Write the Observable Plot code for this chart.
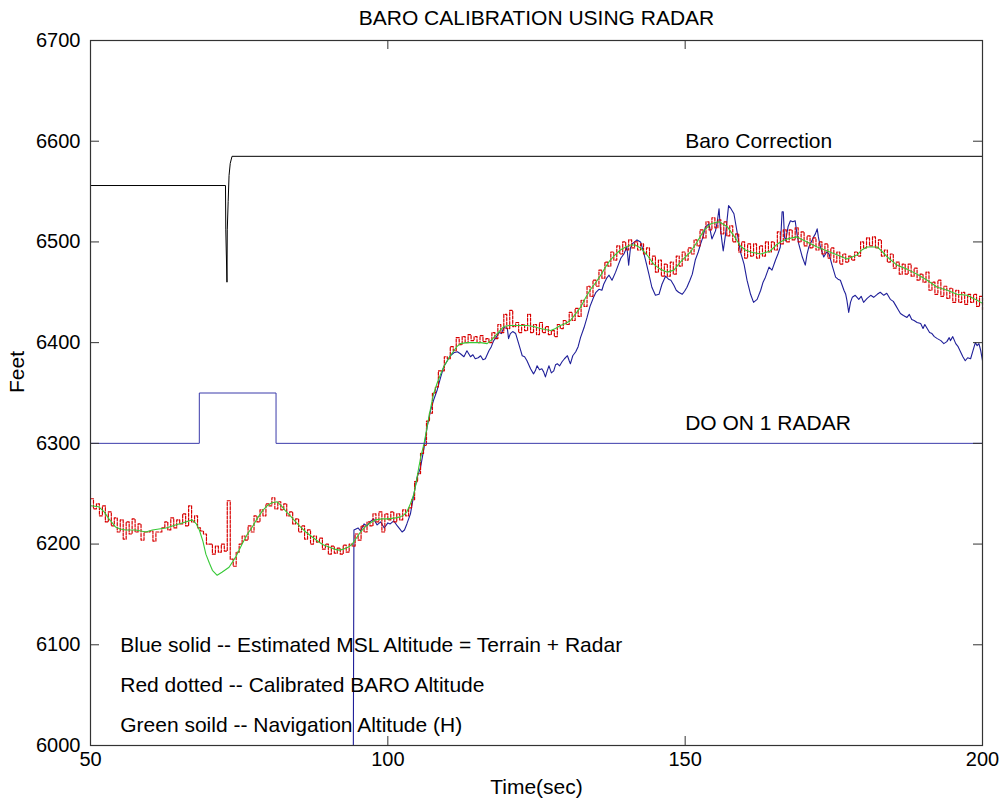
<!DOCTYPE html>
<html>
<head>
<meta charset="utf-8">
<script src="https://cdn.jsdelivr.net/npm/d3@7"></script>
<script src="https://cdn.jsdelivr.net/npm/@observablehq/plot@0.6"></script>
<style>
  body { margin: 0; background: #fff; }
</style>
</head>
<body>
<div id="chart"></div>
<script>
// Axis ticks
const xTicks = [50, 100, 150, 200];
const yTicks = [6000, 6100, 6200, 6300, 6400, 6500, 6600, 6700];

// Baro correction trace (black)
const baroTime = [50, 72.7, 72.75, 72.95, 73.0, 73.15, 73.3, 73.5, 73.8, 200];
const baroAlt  = [6556, 6556, 6512, 6460, 6512, 6540, 6566, 6578, 6585, 6585];

// "DO ON 1 RADAR" discrete indicator (blue step)
const radarTime = [50, 68.3, 68.3, 81.2, 81.2, 200];
const radarAlt  = [6300, 6300, 6350, 6350, 6300, 6300];

// Estimated MSL altitude = terrain + radar (blue solid)
const blueTime = [94.2, 94.3, 95.0, 95.4, 96.0, 96.5, 97.0, 97.6, 98.2, 98.8, 99.4, 100.0, 100.4, 101.0, 101.6, 102.0, 102.4, 102.8,
  103.2, 103.8, 104.4, 104.9, 105.5, 106.1, 106.6, 107.2, 107.7, 108.3, 108.9, 109.4, 110.0, 110.5, 111.1, 111.7, 112.2, 112.8,
  113.3, 113.9, 114.3, 114.7, 115.2, 115.6, 116.0, 116.4, 117.0, 117.4, 117.8, 118.2, 118.7, 119.1, 119.5, 120.1, 120.3, 120.6,
  121.0, 121.5, 122.0, 122.3, 122.6, 123.0, 123.4, 123.7, 124.0, 124.5, 124.8, 125.1, 125.5, 125.9, 126.2, 126.5, 126.8, 127.1,
  127.5, 127.9, 128.2, 128.5, 128.9, 129.3, 129.7, 130.2, 130.5, 130.7, 131.1, 131.6, 132.0, 132.4, 133.0, 133.5, 134.0, 134.6,
  135.0, 135.5, 136.0, 136.3, 136.8, 137.2, 137.7, 138.3, 138.8, 139.2, 139.7, 140.2, 140.5, 140.8, 141.1, 141.5, 141.9, 142.5,
  143.0, 143.5, 143.9, 144.4, 145.0, 145.6, 146.1, 146.7, 147.2, 147.6, 148.1, 148.5, 148.9, 149.5, 149.9, 150.3, 150.8, 151.2,
  151.7, 152.2, 152.6, 153.0, 153.4, 154.0, 154.5, 155.1, 155.4, 155.7, 155.9, 156.2, 156.4, 156.8, 157.3, 157.7, 158.2, 158.7,
  159.0, 159.3, 159.9, 160.4, 161.0, 161.5, 162.1, 162.7, 163.1, 163.5, 164.1, 164.6, 165.2, 165.6, 166.0, 166.3, 166.5, 166.7,
  166.9, 167.3, 167.7, 168.1, 168.5, 168.8, 169.1, 169.7, 170.2, 170.5, 170.8, 171.2, 171.6, 171.9, 172.2, 172.4, 172.7, 173.3,
  173.8, 174.2, 174.7, 175.3, 175.7, 176.1, 176.4, 176.7, 177.0, 177.2, 177.5, 177.8, 178.1, 178.6, 179.2, 179.6, 180.0, 180.6,
  181.2, 181.7, 182.3, 182.8, 183.4, 183.9, 184.5, 185.0, 185.4, 185.8, 186.2, 186.7, 187.3, 187.7, 188.1, 188.5, 189.0, 189.6,
  190.0, 190.3, 190.7, 191.1, 191.5, 191.9, 192.4, 193.0, 193.5, 194.0, 194.4, 194.6, 195.0, 195.5, 195.9, 196.3, 196.7, 197.1,
  197.5, 198.0, 198.4, 198.8, 199.1, 199.4, 199.7, 200.0];
const blueAlt = [6000, 6214, 6216, 6213, 6220, 6218, 6222, 6225, 6219, 6222, 6216, 6221, 6220, 6223, 6218, 6215, 6212, 6214,
  6220, 6230, 6250, 6266, 6276, 6296, 6316, 6333, 6343, 6353, 6366, 6376, 6382, 6387, 6390, 6391, 6389, 6386,
  6392, 6386, 6388, 6384, 6385, 6387, 6383, 6384, 6392, 6396, 6402, 6405, 6410, 6409, 6415, 6414, 6404, 6409,
  6411, 6409, 6399, 6393, 6387, 6386, 6382, 6378, 6374, 6369, 6372, 6377, 6373, 6374, 6371, 6366, 6372, 6377,
  6370, 6372, 6378, 6379, 6377, 6381, 6384, 6387, 6382, 6379, 6387, 6391, 6396, 6405, 6415, 6425, 6436, 6445,
  6450, 6453, 6452, 6458, 6464, 6467, 6462, 6470, 6478, 6484, 6488, 6495, 6477, 6494, 6498, 6500, 6502, 6500,
  6490, 6478, 6468, 6455, 6447, 6448, 6458, 6466, 6463, 6462, 6457, 6452, 6450, 6448, 6451, 6455, 6462, 6468,
  6482, 6490, 6498, 6505, 6515, 6518, 6503, 6511, 6520, 6533, 6515, 6500, 6491, 6508, 6536, 6533, 6528, 6511,
  6500, 6490, 6478, 6462, 6448, 6440, 6443, 6452, 6460, 6465, 6475, 6472, 6482, 6488, 6495, 6530, 6530, 6505,
  6501, 6515, 6521, 6520, 6521, 6508, 6498, 6485, 6477, 6488, 6495, 6500, 6505, 6508, 6513, 6505, 6496, 6485,
  6490, 6488, 6477, 6465, 6463, 6462, 6457, 6452, 6448, 6442, 6430, 6440, 6445, 6447, 6443, 6446, 6440, 6444,
  6447, 6445, 6448, 6450, 6447, 6449, 6443, 6441, 6437, 6433, 6429, 6427, 6425, 6428, 6423, 6422, 6420, 6419,
  6414, 6418, 6414, 6410, 6409, 6406, 6404, 6402, 6399, 6401, 6405, 6402, 6406, 6399, 6396, 6391, 6386, 6382,
  6385, 6384, 6392, 6400, 6397, 6399, 6392, 6382];

// Calibrated BARO altitude (red dotted), sampled every 0.5 s from t = 50
const redStart = 50;
const redStep = 0.5;
const redAlt = [
  6245, 6235, 6240, 6228, 6238, 6222, 6232, 6218, 6226, 6212,
  6224, 6205, 6222, 6210, 6225, 6212, 6220, 6204, 6212, 6212,
  6213, 6203, 6212, 6212, 6216, 6222, 6214, 6226, 6216, 6224,
  6220, 6230, 6218, 6238, 6222, 6228, 6216, 6213, 6210, 6200,
  6200, 6190, 6198, 6192, 6200, 6193, 6243, 6185, 6178, 6192,
  6200, 6208, 6204, 6218, 6212, 6228, 6222, 6234, 6228, 6240,
  6238, 6246, 6235, 6242, 6234, 6240, 6228, 6232, 6220, 6225,
  6212, 6218, 6205, 6214, 6200, 6208, 6202, 6206, 6195, 6200,
  6190, 6198, 6191, 6196, 6190, 6199, 6192, 6200, 6198, 6210,
  6204, 6218, 6212, 6222, 6218, 6230, 6222, 6232, 6212, 6230,
  6224, 6232, 6222, 6230, 6224, 6234, 6228, 6236, 6244, 6262,
  6270, 6290, 6298, 6322, 6330, 6350, 6356, 6372, 6372, 6386,
  6384, 6396, 6392, 6405, 6398, 6406, 6400, 6408, 6402, 6406,
  6400, 6407, 6401, 6404, 6400, 6410, 6404, 6418, 6410, 6428,
  6414, 6432, 6416, 6420, 6410, 6418, 6412, 6428, 6410, 6418,
  6408, 6420, 6410, 6416, 6408, 6412, 6406, 6418, 6414, 6422,
  6418, 6430, 6422, 6434, 6426, 6442, 6436, 6456, 6446, 6462,
  6456, 6472, 6464, 6480, 6476, 6490, 6482, 6496, 6488, 6500,
  6492, 6502, 6494, 6500, 6492, 6498, 6488, 6494, 6478, 6486,
  6470, 6482, 6466, 6478, 6466, 6480, 6468, 6486, 6476, 6490,
  6482, 6494, 6488, 6502, 6496, 6512, 6504, 6520, 6512, 6524,
  6514, 6522, 6508, 6520, 6506, 6516, 6500, 6508, 6490, 6500,
  6484, 6498, 6486, 6498, 6484, 6496, 6486, 6500, 6490, 6500,
  6492, 6510, 6498, 6512, 6500, 6512, 6502, 6514, 6500, 6510,
  6496, 6506, 6494, 6504, 6492, 6500, 6488, 6498, 6484, 6494,
  6480, 6490, 6478, 6488, 6480, 6486, 6482, 6490, 6486, 6500,
  6494, 6504, 6496, 6505, 6494, 6502, 6486, 6492, 6480, 6488,
  6474, 6480, 6468, 6478, 6468, 6478, 6466, 6474, 6462, 6468,
  6460, 6470, 6452, 6460, 6448, 6462, 6446, 6456, 6444, 6454,
  6440, 6452, 6440, 6450, 6438, 6448, 6440, 6448, 6436, 6446,
  6432];

// Navigation altitude H (green solid)
const greenTime = [50, 51.4, 52.3, 53.1, 54.2, 55.0, 55.9, 57.6, 59.3, 60.4, 61.5, 62.7, 64.3, 66.0, 67.1, 67.8, 68.3, 68.9,
  69.4, 70.0, 70.5, 71.3, 72.1, 73.3, 74.4, 75.5, 76.4, 77.2, 78.0, 78.9, 79.7, 80.5, 81.4, 82.1, 82.8, 83.6, 84.5, 85.3,
  86.2, 87.3, 88.4, 89.2, 90.1, 91.0, 91.8, 92.6, 93.4, 94.0, 94.6, 95.4, 96.2, 97.0, 97.9, 99.0, 100.0, 101.3, 102.1, 102.7,
  103.2, 103.8, 104.4, 104.8, 105.2, 105.6, 106.1, 106.5, 106.9, 107.3, 107.7, 108.3, 108.9, 109.4, 110.0, 110.5, 111.1, 111.6,
  112.2, 113.3, 114.5, 115.6, 116.7, 117.5, 118.4, 119.0, 119.5, 120.4, 121.2, 122.3, 123.4, 124.5, 125.7, 126.5, 127.4, 128.2,
  129.0, 129.9, 130.7, 131.5, 132.4, 133.2, 134.1, 135.0, 135.8, 136.6, 137.4, 138.2, 139.1, 140.0, 140.8, 141.6, 142.5, 143.6,
  144.7, 145.8, 147.0, 148.1, 149.2, 150.0, 150.9, 152.0, 153.1, 154.3, 155.7, 157.1, 158.2, 159.3, 160.1, 161.0, 162.7, 164.3,
  165.5, 166.3, 167.2, 168.8, 170.5, 172.2, 173.9, 175.6, 177.2, 178.9, 179.7, 180.6, 182.3, 183.2, 184.0, 185.6, 187.3, 189.0,
  190.7, 192.4, 194.1, 195.7, 197.4, 199.1, 200];
const greenAlt = [6238, 6237, 6232, 6225, 6217, 6215, 6214, 6214, 6212, 6214, 6215, 6216, 6219, 6222, 6224, 6220, 6214, 6203,
  6190, 6181, 6174, 6169, 6172, 6177, 6187, 6200, 6210, 6217, 6225, 6233, 6238, 6241, 6242, 6238, 6233, 6228, 6222, 6217,
  6212, 6207, 6202, 6199, 6197, 6195, 6194, 6195, 6197, 6200, 6205, 6212, 6217, 6221, 6224, 6225, 6225, 6226, 6227, 6229,
  6232, 6240, 6250, 6262, 6276, 6288, 6300, 6313, 6326, 6338, 6349, 6360, 6369, 6376, 6382, 6387, 6392, 6396,
  6399, 6400, 6400, 6400, 6399, 6403, 6409, 6413, 6416, 6417, 6417, 6417, 6417, 6416, 6414, 6413, 6412, 6414,
  6417, 6419, 6422, 6428, 6435, 6444, 6453, 6460, 6467, 6475, 6482, 6487, 6492, 6495, 6497, 6497, 6494, 6487,
  6478, 6473, 6470, 6472, 6480, 6485, 6490, 6500, 6511, 6518, 6520, 6515, 6506, 6496, 6492, 6490, 6488, 6491,
  6498, 6501, 6503, 6505, 6500, 6495, 6491, 6487, 6483, 6487, 6492, 6495, 6495, 6490, 6485, 6477, 6473, 6468,
  6462, 6455, 6452, 6448, 6447, 6442, 6439];

// Text annotations placed in data space
const notes = [
  {t: 150, alt: 6600, text: "Baro Correction"},
  {t: 150, alt: 6320, text: "DO ON 1 RADAR"},
  {t: 55, alt: 6100, text: "Blue solid -- Estimated MSL Altitude = Terrain + Radar"},
  {t: 55, alt: 6060, text: "Red dotted -- Calibrated BARO Altitude"},
  {t: 55, alt: 6020, text: "Green soild -- Navigation Altitude (H)"}
];

const zip = (ts, vs) => ts.map((t, i) => ({t, alt: vs[i]}));
const baro = zip(baroTime, baroAlt);
const radar = zip(radarTime, radarAlt);
const blue = zip(blueTime, blueAlt);
const green = zip(greenTime, greenAlt);
const red = redAlt.map((alt, i) => ({t: redStart + i * redStep, alt}));

const W = 1003, H = 801;
const mL = 90, mR = 21, mT = 40, mB = 56;
const plotW = W - mL - mR, plotH = H - mT - mB;
const tickLen = 9;
const axisColor = "#333";
const font = "'Liberation Sans', Arial, Helvetica, sans-serif";

const chart = Plot.plot({
  width: W,
  height: H,
  marginLeft: mL,
  marginRight: mR,
  marginTop: mT,
  marginBottom: mB,
  style: {fontFamily: font, fontSize: "20px", background: "#fff", color: "#000"},
  x: {domain: [50, 200]},
  y: {domain: [6000, 6700]},
  marks: [
    // data traces
    Plot.line(blue, {x: "t", y: "alt", stroke: "#1f1f99", strokeWidth: 1.1}),
    Plot.line(red, {x: "t", y: "alt", stroke: "#d80000", strokeWidth: 1.2, curve: "step-after", strokeDasharray: "3,1.5"}),
    Plot.line(green, {x: "t", y: "alt", stroke: "#36c936", strokeWidth: 1.1}),
    Plot.line(radar, {x: "t", y: "alt", stroke: "#3a3aaa", strokeWidth: 1}),
    Plot.line(baro, {x: "t", y: "alt", stroke: "#000", strokeWidth: 1}),
    // annotations
    Plot.text(notes, {x: "t", y: "alt", text: "text", textAnchor: "start", lineAnchor: "middle",
      fontSize: 21, fill: "#000"}),
    // box and inward ticks on all four sides
    Plot.frame({stroke: axisColor, strokeWidth: 1.2}),
    Plot.ruleX(xTicks, {x: d => d, insetTop: plotH - tickLen, stroke: axisColor}),
    Plot.ruleX(xTicks, {x: d => d, insetBottom: plotH - tickLen, stroke: axisColor}),
    Plot.ruleY(yTicks, {y: d => d, insetRight: plotW - tickLen, stroke: axisColor}),
    Plot.ruleY(yTicks, {y: d => d, insetLeft: plotW - tickLen, stroke: axisColor}),
    // tick labels
    Plot.axisX({ticks: xTicks, tickSize: 0, tickPadding: 6, tickFormat: d => String(d), label: null, fontSize: 20}),
    Plot.axisY({ticks: yTicks, tickSize: 0, tickPadding: 10, tickFormat: d => String(d), label: null, fontSize: 20}),
    // titles
    Plot.text(["BARO CALIBRATION USING RADAR"], {frameAnchor: "top", dy: -22, lineAnchor: "middle", fontSize: 21, fill: "#000"}),
    Plot.text(["Time(sec)"], {frameAnchor: "bottom", dy: 42, lineAnchor: "middle", fontSize: 21, fill: "#000"}),
    Plot.text(["Feet"], {frameAnchor: "left", dx: -73, rotate: -90, lineAnchor: "middle", fontSize: 21, fill: "#000"})
  ]
});

document.getElementById("chart").appendChild(chart);
</script>
</body>
</html>
